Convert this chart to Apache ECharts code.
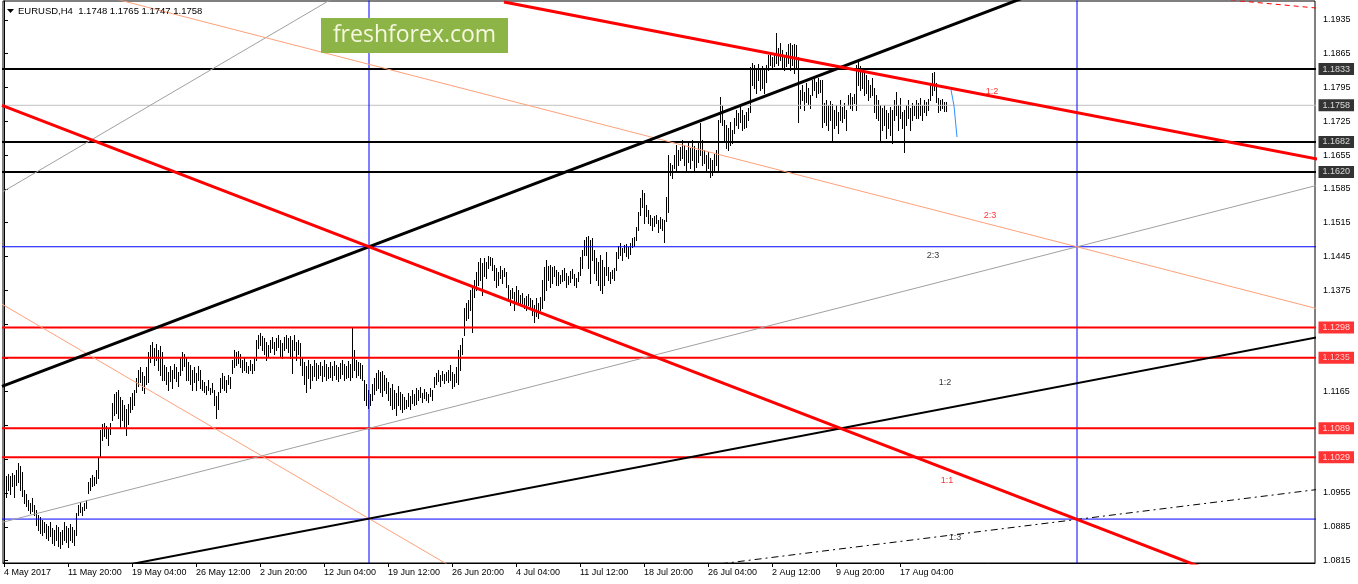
<!DOCTYPE html>
<html><head><meta charset="utf-8">
<script src="https://cdn.jsdelivr.net/npm/echarts@6/dist/echarts.min.js"></script>
<style>html,body{margin:0;padding:0;background:#fff;}#c{width:1358px;height:584px;}</style>
</head><body><div id="c"></div>
<script>
// ---- data ----
const xLabelIndex = [0,32,64,96,128,160,192,224,256,288,320,352,384,416,448];
const xLabels = ['4 May 2017','11 May 20:00','19 May 04:00','26 May 12:00','2 Jun 20:00','12 Jun 04:00','19 Jun 12:00','26 Jun 20:00','4 Jul 04:00','11 Jul 12:00','18 Jul 20:00','26 Jul 04:00','2 Aug 12:00','9 Aug 20:00','17 Aug 04:00'];
const yTicks = [1.0815,1.0885,1.0955,1.1025,1.1095,1.1165,1.1235,1.1305,1.1375,1.1445,1.1515,1.1585,1.1655,1.1725,1.1795,1.1865,1.1935];
const yTickLabelsShown = [1.0815,1.0885,1.0955,1.1165,1.1235,1.1375,1.1445,1.1515,1.1585,1.1655,1.1725,1.1795,1.1865,1.1935];
const highs = [
1.0982,1.0991,1.0995,1.0991,1.0997,1.0993,1.1003,1.1018,1.1011,1.0999,
1.0962,1.0953,1.0941,1.0935,1.0945,1.0931,1.0920,1.0910,1.0906,1.0899,
1.0895,1.0891,1.0887,1.0895,1.0883,1.0879,1.0889,1.0885,1.0875,1.0879,
1.0895,1.0887,1.0883,1.0891,1.0885,1.0879,1.0914,1.0931,1.0937,1.0926,
1.0935,1.0941,1.0978,1.0987,1.0993,1.0989,1.1003,1.1030,1.1086,1.1097,
1.1101,1.1094,1.1090,1.1099,1.1142,1.1159,1.1165,1.1169,1.1153,1.1148,
1.1138,1.1128,1.1140,1.1153,1.1163,1.1169,1.1194,1.1210,1.1215,1.1206,
1.1198,1.1215,1.1246,1.1262,1.1268,1.1256,1.1264,1.1252,1.1260,1.1248,
1.1221,1.1215,1.1206,1.1219,1.1210,1.1223,1.1215,1.1206,1.1235,1.1248,
1.1242,1.1235,1.1227,1.1221,1.1210,1.1215,1.1204,1.1219,1.1210,1.1190,
1.1184,1.1177,1.1188,1.1173,1.1182,1.1169,1.1155,1.1165,1.1194,1.1204,
1.1198,1.1190,1.1200,1.1196,1.1231,1.1252,1.1246,1.1250,1.1242,1.1231,
1.1237,1.1227,1.1217,1.1231,1.1223,1.1235,1.1272,1.1283,1.1287,1.1281,
1.1276,1.1268,1.1262,1.1272,1.1279,1.1268,1.1276,1.1283,1.1272,1.1266,
1.1279,1.1283,1.1276,1.1281,1.1272,1.1283,1.1268,1.1272,1.1266,1.1235,
1.1227,1.1217,1.1231,1.1223,1.1219,1.1231,1.1225,1.1221,1.1227,1.1217,
1.1231,1.1223,1.1215,1.1227,1.1219,1.1229,1.1221,1.1215,1.1225,1.1231,
1.1223,1.1219,1.1229,1.1223,1.1297,1.1252,1.1231,1.1227,1.1225,1.1221,
1.1190,1.1180,1.1169,1.1159,1.1180,1.1194,1.1204,1.1210,1.1206,1.1208,
1.1200,1.1194,1.1184,1.1173,1.1180,1.1169,1.1163,1.1177,1.1165,1.1159,
1.1153,1.1148,1.1163,1.1155,1.1169,1.1159,1.1173,1.1169,1.1175,1.1163,
1.1171,1.1165,1.1161,1.1173,1.1169,1.1196,1.1204,1.1210,1.1200,1.1208,
1.1202,1.1206,1.1210,1.1221,1.1206,1.1202,1.1215,1.1252,1.1262,1.1276,
1.1339,1.1349,1.1355,1.1376,1.1382,1.1397,1.1413,1.1434,1.1442,1.1432,
1.1442,1.1434,1.1446,1.1444,1.1442,1.1428,1.1421,1.1413,1.1426,1.1417,
1.1421,1.1413,1.1386,1.1376,1.1380,1.1372,1.1384,1.1376,1.1365,1.1369,
1.1359,1.1363,1.1367,1.1359,1.1355,1.1345,1.1359,1.1349,1.1361,1.1397,
1.1424,1.1438,1.1426,1.1428,1.1424,1.1426,1.1417,1.1413,1.1407,1.1417,
1.1421,1.1411,1.1405,1.1415,1.1419,1.1409,1.1401,1.1413,1.1444,1.1459,
1.1479,1.1486,1.1488,1.1479,1.1484,1.1459,1.1442,1.1434,1.1448,1.1438,
1.1424,1.1455,1.1424,1.1413,1.1417,1.1421,1.1455,1.1467,1.1473,1.1463,
1.1469,1.1471,1.1465,1.1473,1.1484,1.1486,1.1506,1.1537,1.1567,1.1583,
1.1577,1.1552,1.1541,1.1531,1.1525,1.1529,1.1531,1.1521,1.1527,1.1523,
1.1521,1.1569,1.1655,1.1639,1.1635,1.1655,1.1676,1.1666,1.1672,1.1686,
1.1676,1.1666,1.1682,1.1670,1.1686,1.1674,1.1666,1.1680,1.1722,1.1686,
1.1666,1.1655,1.1662,1.1649,1.1645,1.1657,1.1666,1.1728,1.1776,1.1759,
1.1728,1.1718,1.1711,1.1724,1.1707,1.1732,1.1749,1.1742,1.1759,1.1749,
1.1738,1.1744,1.1753,1.1838,1.1846,1.1842,1.1836,1.1844,1.1831,1.1840,
1.1831,1.1842,1.1862,1.1867,1.1858,1.1865,1.1908,1.1877,1.1887,1.1873,
1.1858,1.1869,1.1885,1.1887,1.1883,1.1885,1.1883,1.1858,1.1790,1.1800,
1.1786,1.1805,1.1794,1.1780,1.1811,1.1817,1.1807,1.1815,1.1811,1.1811,
1.1763,1.1769,1.1759,1.1767,1.1761,1.1749,1.1759,1.1744,1.1769,1.1755,
1.1763,1.1749,1.1780,1.1784,1.1776,1.1782,1.1842,1.1848,1.1840,1.1831,
1.1827,1.1821,1.1811,1.1800,1.1815,1.1794,1.1780,1.1769,1.1759,1.1753,
1.1759,1.1749,1.1742,1.1755,1.1749,1.1769,1.1786,1.1759,1.1773,1.1744,
1.1749,1.1759,1.1769,1.1753,1.1763,1.1757,1.1769,1.1763,1.1773,1.1759,
1.1769,1.1765,1.1771,1.1800,1.1825,1.1827,1.1805,1.1773,1.1769,1.1771,1.1765,1.1765];
const lows = [
1.0931,1.0947,1.0962,1.0953,1.0970,1.0947,1.0972,1.0978,1.0962,1.0949,
1.0935,1.0929,1.0920,1.0914,1.0918,1.0910,1.0889,1.0879,1.0873,1.0868,
1.0875,1.0862,1.0858,1.0866,1.0852,1.0848,1.0858,1.0846,1.0842,1.0850,
1.0858,1.0854,1.0844,1.0858,1.0854,1.0848,1.0868,1.0910,1.0916,1.0910,
1.0920,1.0924,1.0956,1.0962,1.0970,1.0972,1.0976,1.0987,1.1030,1.1065,
1.1074,1.1069,1.1055,1.1078,1.1107,1.1117,1.1121,1.1111,1.1092,1.1107,
1.1090,1.1076,1.1097,1.1123,1.1128,1.1138,1.1165,1.1177,1.1184,1.1169,
1.1163,1.1180,1.1184,1.1227,1.1235,1.1221,1.1231,1.1210,1.1200,1.1190,
1.1190,1.1180,1.1169,1.1186,1.1173,1.1194,1.1186,1.1177,1.1200,1.1210,
1.1217,1.1190,1.1190,1.1180,1.1169,1.1184,1.1169,1.1190,1.1173,1.1169,
1.1165,1.1159,1.1169,1.1159,1.1165,1.1138,1.1111,1.1128,1.1165,1.1173,
1.1169,1.1165,1.1180,1.1173,1.1204,1.1215,1.1221,1.1225,1.1215,1.1206,
1.1210,1.1206,1.1204,1.1210,1.1204,1.1210,1.1231,1.1256,1.1262,1.1252,
1.1242,1.1231,1.1237,1.1248,1.1256,1.1242,1.1252,1.1258,1.1239,1.1235,
1.1252,1.1256,1.1248,1.1235,1.1204,1.1252,1.1231,1.1242,1.1221,1.1200,
1.1180,1.1165,1.1194,1.1173,1.1190,1.1198,1.1190,1.1194,1.1200,1.1186,
1.1198,1.1190,1.1194,1.1196,1.1188,1.1200,1.1192,1.1186,1.1194,1.1202,
1.1190,1.1194,1.1196,1.1190,1.1196,1.1210,1.1196,1.1200,1.1194,1.1190,
1.1148,1.1138,1.1132,1.1138,1.1148,1.1159,1.1169,1.1173,1.1165,1.1155,
1.1169,1.1163,1.1148,1.1138,1.1128,1.1132,1.1117,1.1138,1.1128,1.1123,
1.1128,1.1132,1.1136,1.1128,1.1142,1.1138,1.1140,1.1148,1.1153,1.1144,
1.1151,1.1148,1.1144,1.1155,1.1148,1.1175,1.1180,1.1186,1.1177,1.1190,
1.1182,1.1188,1.1184,1.1190,1.1173,1.1177,1.1184,1.1180,1.1210,1.1242,
1.1283,1.1314,1.1318,1.1334,1.1289,1.1361,1.1376,1.1386,1.1397,1.1365,
1.1405,1.1401,1.1421,1.1428,1.1417,1.1397,1.1382,1.1386,1.1401,1.1390,
1.1405,1.1382,1.1355,1.1345,1.1359,1.1334,1.1351,1.1347,1.1345,1.1349,
1.1339,1.1334,1.1345,1.1341,1.1324,1.1310,1.1322,1.1318,1.1334,1.1339,
1.1355,1.1376,1.1397,1.1382,1.1390,1.1405,1.1386,1.1386,1.1390,1.1395,
1.1397,1.1382,1.1388,1.1392,1.1401,1.1386,1.1382,1.1395,1.1407,1.1421,
1.1448,1.1448,1.1421,1.1390,1.1438,1.1411,1.1397,1.1386,1.1376,1.1369,
1.1386,1.1407,1.1397,1.1390,1.1401,1.1397,1.1417,1.1442,1.1448,1.1438,
1.1455,1.1446,1.1442,1.1450,1.1465,1.1467,1.1479,1.1500,1.1531,1.1548,
1.1514,1.1529,1.1514,1.1510,1.1500,1.1508,1.1514,1.1496,1.1504,1.1500,
1.1475,1.1518,1.1537,1.1614,1.1608,1.1629,1.1624,1.1635,1.1645,1.1649,
1.1635,1.1620,1.1641,1.1629,1.1645,1.1624,1.1631,1.1641,1.1655,1.1635,
1.1639,1.1624,1.1629,1.1610,1.1614,1.1624,1.1635,1.1624,1.1724,1.1718,
1.1682,1.1670,1.1666,1.1676,1.1680,1.1701,1.1718,1.1711,1.1724,1.1707,
1.1711,1.1713,1.1728,1.1745,1.1800,1.1794,1.1784,1.1811,1.1790,1.1794,
1.1784,1.1807,1.1831,1.1842,1.1836,1.1840,1.1846,1.1842,1.1852,1.1836,
1.1831,1.1840,1.1846,1.1831,1.1842,1.1825,1.1836,1.1724,1.1753,1.1769,
1.1749,1.1765,1.1761,1.1753,1.1780,1.1790,1.1776,1.1784,1.1786,1.1713,
1.1724,1.1718,1.1707,1.1728,1.1686,1.1711,1.1718,1.1701,1.1728,1.1724,
1.1732,1.1707,1.1759,1.1753,1.1749,1.1763,1.1749,1.1800,1.1790,1.1794,
1.1780,1.1784,1.1769,1.1776,1.1780,1.1744,1.1732,1.1728,1.1686,1.1707,
1.1718,1.1691,1.1711,1.1697,1.1680,1.1728,1.1738,1.1707,1.1732,1.1711,
1.1662,1.1718,1.1732,1.1707,1.1728,1.1738,1.1732,1.1732,1.1738,1.1728,
1.1744,1.1738,1.1749,1.1769,1.1780,1.1790,1.1765,1.1744,1.1749,1.1753,1.1747,1.1747];

const blackLevels = [1.1833, 1.1682, 1.1620];
const redLevels = [1.1298, 1.1235, 1.1089, 1.1029];
const bidLevel = 1.1758;
const blueLevels = [1.1465, 1.0901];
const blueTimes = [182.5, 536.5];

// trend lines: [bar index, price] end points
const redFanMain = [[-1, 1.1758], [600, 1.0799]];
const redFanTop = [[250, 1.1972], [660, 1.1644]];
const blackFanMain = [[-1, 1.1176], [510, 1.1981]];
const blackFanLow = [[50, 1.0797], [660, 1.1280]];
const grayUpper = [[-1, 1.1578], [170, 1.1993]];
const grayLong = [[-1, 1.0894], [660, 1.1596]];
const salmonUpper = [[40, 1.1995], [660, 1.1333]];
const salmonLower = [[-1, 1.1346], [230, 1.0787]];
const dashDotLow = [[350, 1.0804], [660, 1.0964]];
const redDashTop = [[600, 1.1981], [660, 1.1958]];
const forecastPath = [[473.5, 1.1790], [475, 1.1757], [476.5, 1.1692]];

const ratioText = ['1:2', '2:3', '2:3', '1:2', '1:1', '1:3'];
const ratioPos = [[494, 1.1786], [493, 1.1529], [464.5, 1.1446], [470.5, 1.1183], [471.5, 1.0980], [475.5, 1.0862]];
const ratioColor = ['#ff0000', '#ff0000', '#000000', '#000000', '#ff0000', '#000000'];

// ---- chart ----
const FONT = '"Liberation Sans", Arial, sans-serif';
const X_MIN = -0.5, X_MAX = 655.5, Y_MIN = 1.0810, Y_MAX = 1.1974;
const chart = echarts.init(document.getElementById('c'), null, {renderer: 'canvas'});

function trend(data, color, width, type, z) {
  return {type: 'line', data: data, symbol: 'none', showSymbol: false, clip: true, silent: true,
    animation: false, z: z || 5, lineStyle: {color: color, width: width, type: type || 'solid'}};
}
function hLine(v, color, width) { return trend([[X_MIN - 2, v], [X_MAX + 2, v]], color, width, 'solid', 4); }
function vLine(t, color, width) { return trend([[t, Y_MIN - 0.01], [t, Y_MAX + 0.01]], color, width, 'solid', 4); }

const levelSeries = [];
levelSeries.push(hLine(bidLevel, '#c0c0c0', 1));
blueLevels.forEach(v => levelSeries.push(hLine(v, '#0000ff', 1)));
blueTimes.forEach(t => levelSeries.push(vLine(t, '#0000ff', 1)));
blackLevels.forEach(v => levelSeries.push(hLine(v, '#000000', 2)));
redLevels.forEach(v => levelSeries.push(hLine(v, '#ff0000', 2)));

const boxLevels = [bidLevel].concat(blackLevels, redLevels);
const boxColors = ['#000'].concat(blackLevels.map(() => '#000'), redLevels.map(() => '#ff0000'));
const priceBoxes = {
  type: 'scatter', z: 20, silent: true, clip: false, symbolSize: 1, itemStyle: {color: 'rgba(0,0,0,0)'},
  data: boxLevels.map((v, i) => ({value: [X_MAX, v], label: {show: true, position: 'right', distance: 3,
    formatter: v.toFixed(4), backgroundColor: boxColors[i], color: '#fff', padding: [2, 4, 1, 4],
    fontSize: 9, fontFamily: FONT}}))
};

const option = {
  animation: false,
  backgroundColor: '#ffffff',
  grid: {left: 3, top: 1, right: 43, bottom: 21, show: true, borderColor: '#000', borderWidth: 1, backgroundColor: 'transparent'},
  xAxis: {
    type: 'value', min: X_MIN, max: X_MAX,
    axisLine: {show: true, lineStyle: {color: '#000', width: 1}},
    axisTick: {show: true, length: 4, lineStyle: {color: '#000'}, customValues: xLabelIndex},
    axisLabel: {show: true, customValues: xLabelIndex, align: 'left', margin: 5, fontSize: 9, fontFamily: FONT, color: '#000',
      formatter: v => xLabels[xLabelIndex.indexOf(Math.round(v))] || ''},
    splitLine: {show: false}
  },
  yAxis: {
    type: 'value', position: 'right', min: Y_MIN, max: Y_MAX, scale: true,
    axisLine: {show: true, lineStyle: {color: '#000', width: 1}},
    axisTick: {show: true, length: 4, lineStyle: {color: '#000'}, customValues: yTicks},
    axisLabel: {show: true, customValues: yTickLabelsShown, margin: 8, fontSize: 9, fontFamily: FONT, color: '#000',
      formatter: v => v.toFixed(4)},
    splitLine: {show: false}
  },
  series: levelSeries.concat([
    {type: 'custom', z: 3, silent: true, animation: false, clip: true,
      data: highs.map((h, i) => [i, h, lows[i]]),
      encode: {x: 0, y: [1, 2]},
      renderItem: function (params, api) {
        const a = api.coord([api.value(0), api.value(1)]);
        const b = api.coord([api.value(0), api.value(2)]);
        const x = Math.round(a[0]) + 0.5;
        return {type: 'line', shape: {x1: x, y1: Math.round(a[1]), x2: x, y2: Math.round(b[1]) + 1},
          style: {stroke: '#000', lineWidth: 1}};
      }},
    trend(grayUpper, '#a0a0a0', 1),
    trend(grayLong, '#a0a0a0', 1),
    trend(salmonUpper, '#ffa07a', 1),
    trend(salmonLower, '#ffa07a', 1),
    trend(dashDotLow, '#000000', 1, [7, 4, 2, 4]),
    trend(redDashTop, '#ff0000', 1, [5, 4]),
    trend(blackFanLow, '#000000', 2),
    trend(blackFanMain, '#000000', 3),
    trend(redFanMain, '#ff0000', 3),
    trend(redFanTop, '#ff0000', 3),
    trend(forecastPath, '#2f8fff', 1),
    {type: 'scatter', z: 7, silent: true, symbolSize: 1, itemStyle: {color: 'rgba(0,0,0,0)'},
      data: ratioPos.map((p, i) => ({value: p, label: {show: true, position: 'inside', formatter: ratioText[i],
        color: ratioColor[i], fontSize: 9, fontFamily: FONT}}))},
    priceBoxes
  ]),
  graphic: [
    {type: 'polygon', z: 100, shape: {points: [[7, 9], [14, 9], [10.5, 13]]}, style: {fill: '#000'}},
    {type: 'text', z: 100, x: 18, y: 11, style: {text: 'EURUSD,H4  1.1748 1.1765 1.1747 1.1758', fill: '#000',
      font: '9.5px ' + FONT, verticalAlign: 'middle', textVerticalAlign: 'middle'}},
    {type: 'rect', z: 100, shape: {x: 321, y: 18, width: 187, height: 35}, style: {fill: '#8db446'}},
    {type: 'text', z: 101, x: 414.5, y: 35.5, style: {text: 'freshforex.com', fill: '#f5f7de',
      font: '23px "Open Sans", "Noto Sans", sans-serif', align: 'center', verticalAlign: 'middle',
      textAlign: 'center', textVerticalAlign: 'middle'}}
  ]
};
chart.setOption(option);
</script>
</body></html>
